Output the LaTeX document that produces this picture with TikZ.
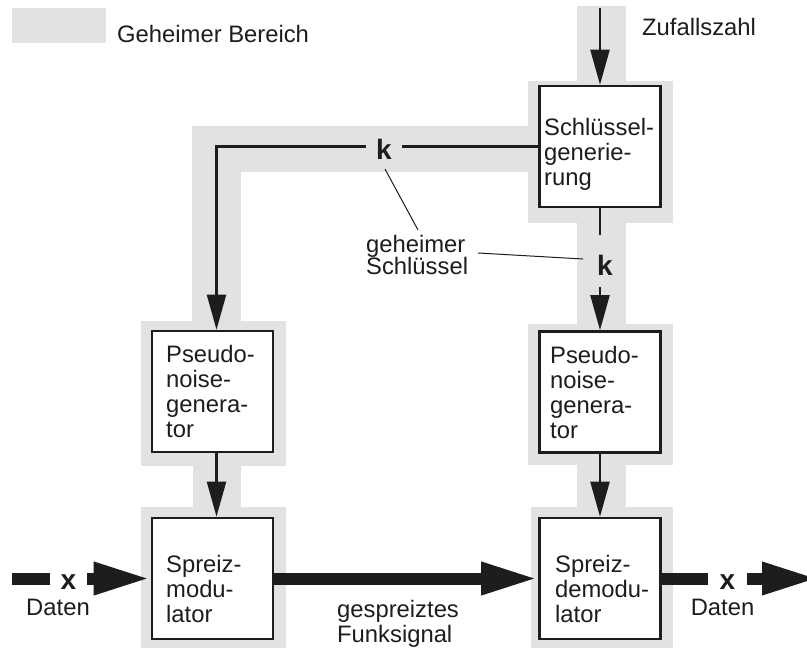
\documentclass[tikz,border=0pt]{standalone}
\usepackage{fontspec}
\setmainfont{Liberation Sans}
\usetikzlibrary{arrows.meta,calc}
\definecolor{secret}{RGB}{225,226,228}
\definecolor{ink}{RGB}{30,28,30}
\begin{document}
\begin{tikzpicture}[x=1pt,y=-1pt,
  every node/.style={font=\fontsize{23.8}{25}\selectfont, inner sep=0pt, text=ink,
    execute at begin node={\lineskiplimit=-50pt}},
  block/.style={draw=ink, line width=2.6pt, fill=white, minimum width=121pt, minimum height=121pt},
  blocktext/.style={anchor=north west, align=left},
  keyletter/.style={font=\fontsize{28}{30}\selectfont\bfseries},
  wire/.style={draw=ink, line width=2.2pt},
  thin/.style={wire, -{Triangle[length=35pt,width=19pt]}},
  signalline/.style={draw=ink, line width=12pt},
  signal/.style={signalline, -{Triangle[length=57pt,width=30pt]}},
  leader/.style={draw=ink, line width=1pt}]
\useasboundingbox (0,0) rectangle (807,648);
\clip (0,0) rectangle (807,648);
\fill[white] (0,0) rectangle (807,648);

% secret area (grey bands)
\begin{scope}[fill=secret]
  \fill (577,6) rectangle (626,82);
  \fill (528,81) rectangle (673,223);
  \fill (192,126) rectangle (528,172);
  \fill (192,126) rectangle (241,322);
  \fill (577,222) rectangle (626,325);
  \fill (141,321) rectangle (286,466);
  \fill (528,324) rectangle (673,465);
  \fill (193,465) rectangle (241,508);
  \fill (577,464) rectangle (626,508);
  \fill (141,507) rectangle (286,648);
  \fill (531,507) rectangle (673,648);
\end{scope}

% legend
\node[fill=secret, minimum width=94pt, minimum height=35pt] (swatch) at (59,25.5) {};
\node[anchor=base west] (legendtext) at (117,42) {Geheimer Bereich};

% blocks
\node[block] (keygen) at (600,146.5) {};
\node[block] (pnL) at (212.5,391.5) {};
\node[block] (pnR) at (600,392) {};
\node[block] (mod) at (212.5,578.5) {};
\node[block] (demod) at (600,578.5) {};

\node[blocktext] (keygentext) at (544,118) {Schlüssel-\\generie-\\rung};
\node[blocktext] (pnLtext) at (166,345) {Pseudo-\\noise-\\genera-\\tor};
\node[blocktext] (pnRtext) at (550,346) {Pseudo-\\noise-\\genera-\\tor};
\node[blocktext] (modtext) at (166,555) {Spreiz-\\modu-\\lator};
\node[blocktext] (demodtext) at (555,555) {Spreiz-\\demodu-\\lator};

% labels
\node[anchor=base west] (random) at (642,35) {Zufallszahl};
\node[blocktext, font=\fontsize{23.8}{22.5}\selectfont] (secretkey) at (366,235) {geheimer\\Schlüssel};
\node[blocktext] (channel) at (337,600) {gespreiztes\\Funksignal};
\node[anchor=base] (datain) at (58,615) {Daten};
\node[anchor=base] (dataout) at (722.5,615) {Daten};

% key letters
\node[keyletter, inner xsep=10pt] (k) at (384,149) {k};
\node[keyletter] (k2) at (605,265) {k};
\node[keyletter, inner xsep=10.5pt] (xin) at (68.5,582) {x};
\node[keyletter, inner xsep=11.5pt] (xout) at (727.5,582) {x};

% key distribution
\coordinate (rin) at (600,8);
\draw[thin] (rin) -- (keygen.north);
\coordinate (kcorner) at (216.5,146.5);
\draw[wire] (keygen.west) -- (k.east |- keygen.west);
\draw[thin, line join=miter] (k.west |- keygen.west) -- (kcorner) -- (kcorner |- pnL.north);
\coordinate (k2top) at (600,235);
\coordinate (k2bot) at (600,287);
\draw[wire] (keygen.south) -- (k2top);
\draw[thin] (k2bot) -- (pnR.north);
\draw[thin] (pnL.south -| kcorner) -- (mod.north -| kcorner);
\draw[thin] (pnR.south) -- (demod.north);

% leader lines
\coordinate (la1) at (385,169);
\coordinate (la2) at (418,230);
\coordinate (lb1) at (478,253);
\coordinate (lb2) at (583,259);
\draw[leader] (la1) -- (la2);
\draw[leader] (lb1) -- (lb2);

% data path
\coordinate (din) at (12,578.5);
\coordinate (dout) at (819,578.5);
\draw[signalline] (din) -- (din -| xin.west);
\draw[signal] (xin.east |- mod.west) -- (mod.west);
\draw[signal] (mod.east) -- (demod.west);
\draw[signalline] (demod.east) -- (xout.west |- demod.east);
\draw[signal] (xout.east |- demod.east) -- (dout);
\end{tikzpicture}
\end{document}
